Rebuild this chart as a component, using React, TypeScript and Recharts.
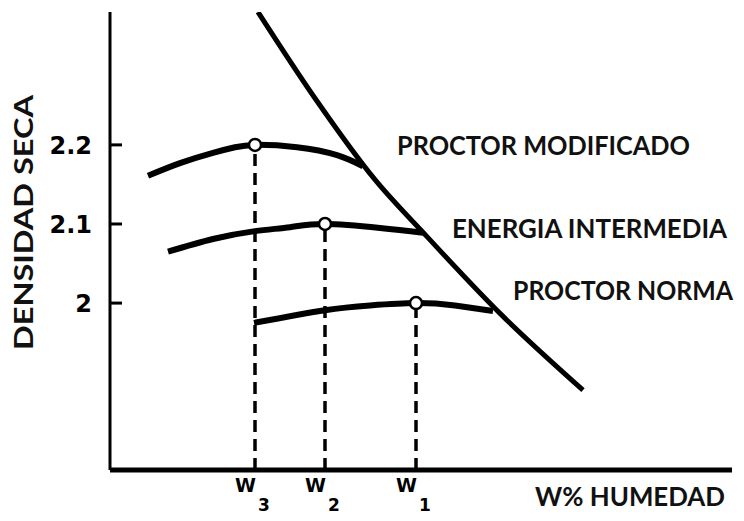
import { ComposedChart, Line, Scatter, XAxis, YAxis, ReferenceLine } from 'recharts';

// humedad (unidades arbitrarias) y densidad seca
const modX = [3.8, 7.0, 10.3, 12.5, 14.5, 18.7, 22.7, 25.3];
const modY = [2.161, 2.177, 2.19, 2.197, 2.2, 2.197, 2.187, 2.173];

const intX = [5.8, 10.3, 14.5, 18.0, 21.5, 27.0, 31.3];
const intY = [2.065, 2.081, 2.091, 2.096, 2.1, 2.095, 2.089];

const normX = [14.4, 21.5, 26.0, 30.6, 34.5, 38.3];
const normY = [1.975, 1.991, 1.997, 2.0, 1.997, 1.99];

// linea de saturacion
const satX = [14.8, 20.5, 26.5, 31.7, 39.0, 47.3];
const satY = [2.368, 2.259, 2.156, 2.084, 1.987, 1.89];

const optX = [14.5, 21.5, 30.6];
const optY = [2.2, 2.1, 2.0];
const optLabels = ['3', '2', '1'];

const yTicks = [2.0, 2.1, 2.2];
const yTickLabels: Record<string, string> = { '2': '2', '2.1': '2.1', '2.2': '2.2' };

const X_DOMAIN: [number, number] = [0, 62.2];
const Y_DOMAIN: [number, number] = [1.789, 2.368];

const zip = (xs: number[], ys: number[]) => xs.map((x, i) => ({ x, y: ys[i] }));

const modData = zip(modX, modY);
const intData = zip(intX, intY);
const normData = zip(normX, normY);
const satData = zip(satX, satY);
const optData = zip(optX, optY);

const FONT = "Lato, 'Open Sans', sans-serif";
const TICK_FONT = "'DejaVu Sans', sans-serif";

function WTick(props: any) {
  const { x, y, payload } = props;
  const i = optX.indexOf(payload.value);
  return (
    <g fontFamily={TICK_FONT} fontWeight={700} fill="#000">
      <text x={x + 1} y={y + 14} textAnchor="end" fontSize={19}>W</text>
      <text x={x + 3} y={y + 33} textAnchor="start" fontSize={17}>{optLabels[i]}</text>
    </g>
  );
}

function YTick(props: any) {
  const { y, payload } = props;
  return (
    <text x={92} y={y + 9} textAnchor="end" fontFamily={TICK_FONT} fontWeight={700} fontSize={24} fill="#000">
      {yTickLabels[String(payload.value)]}
    </text>
  );
}

function OpenDot(props: any) {
  const { cx, cy } = props;
  return <circle cx={cx} cy={cy} r={6} fill="#fff" stroke="#000" strokeWidth={2.5} />;
}

export default function App() {
  return (
    <div style={{ position: 'absolute', left: 0, top: 0, width: 744, height: 521, background: '#fff' }}>
      <ComposedChart width={744} height={521} margin={{ top: 12, right: 12, bottom: 0, left: 0 }}>
        <XAxis
          type="number"
          dataKey="x"
          domain={X_DOMAIN}
          ticks={optX}
          tick={<WTick />}
          tickLine={false}
          axisLine={{ stroke: '#000', strokeWidth: 5 }}
          height={51}
          allowDataOverflow
        />
        <YAxis
          type="number"
          dataKey="y"
          domain={Y_DOMAIN}
          ticks={yTicks}
          tick={<YTick />}
          tickLine={false}
          axisLine={{ stroke: '#000', strokeWidth: 3 }}
          width={110}
          allowDataOverflow
        />
        {yTicks.map((t) => (
          <ReferenceLine key={t} segment={[{ x: 0, y: t }, { x: 1.2, y: t }]} stroke="#000" strokeWidth={3} />
        ))}
        {optX.map((x, i) => (
          <ReferenceLine
            key={x}
            segment={[{ x, y: Y_DOMAIN[0] }, { x, y: optY[i] }]}
            stroke="#000"
            strokeWidth={3.5}
            strokeDasharray="12 7"
          />
        ))}
        <Line data={modData} dataKey="y" type="natural" stroke="#000" strokeWidth={6} dot={false} isAnimationActive={false} />
        <Line data={intData} dataKey="y" type="natural" stroke="#000" strokeWidth={6} dot={false} isAnimationActive={false} />
        <Line data={normData} dataKey="y" type="natural" stroke="#000" strokeWidth={6} dot={false} isAnimationActive={false} />
        <Line data={satData} dataKey="y" type="monotone" stroke="#000" strokeWidth={5} dot={false} isAnimationActive={false} />
        <Scatter data={optData} dataKey="y" shape={<OpenDot />} isAnimationActive={false} />
      </ComposedChart>
      <svg width={744} height={521} style={{ position: 'absolute', left: 0, top: 0, pointerEvents: 'none' }}>
        <g fontFamily={FONT} fontWeight={700} fill="#111">
          <text x={397} y={155} fontSize={27} textLength={293} lengthAdjust="spacingAndGlyphs">PROCTOR MODIFICADO</text>
          <text x={452} y={238} fontSize={27} textLength={275} lengthAdjust="spacingAndGlyphs">ENERGIA INTERMEDIA</text>
          <text x={513} y={300} fontSize={27} textLength={220} lengthAdjust="spacingAndGlyphs">PROCTOR NORMA</text>
          <text x={535} y={506} fontSize={27} textLength={190} lengthAdjust="spacingAndGlyphs">W% HUMEDAD</text>
          <text
            x={0}
            y={0}
            fontSize={27}
            textLength={255}
            lengthAdjust="spacingAndGlyphs"
            transform="translate(33, 350) rotate(-90)"
          >
            DENSIDAD SECA
          </text>
        </g>
      </svg>
    </div>
  );
}
